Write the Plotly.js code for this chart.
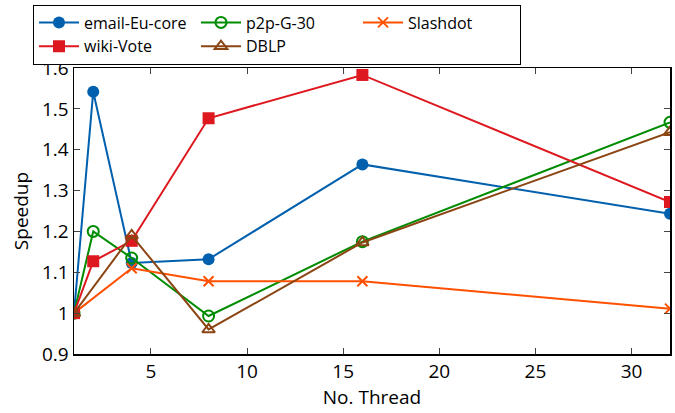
<!DOCTYPE html>
<html>
<head>
<meta charset="utf-8">
<script src="https://cdn.plot.ly/plotly-3.0.1.min.js"></script>
<style>html,body{margin:0;padding:0;background:#fff}#chart{width:675px;height:413px}</style>
</head>
<body>
<div id="chart"></div>
<script>
const threadsAll = [1, 2, 4, 8, 16, 32];
const threadsNo2 = [1, 4, 8, 16, 32];
const emailEuCore = [1.0, 1.542, 1.123, 1.132, 1.364, 1.243];
const wikiVote = [1.0, 1.127, 1.177, 1.477, 1.583, 1.272];
const p2pG30 = [1.0, 1.2, 1.135, 0.993, 1.175, 1.467];
const dblp = [1.0, 1.19, 0.96, 1.173, 1.443];
const slashdot = [1.0, 1.11, 1.078, 1.078, 1.011];
const xTicks = [5, 10, 15, 20, 25, 30];
const yTicks = [0.9, 1.0, 1.1, 1.2, 1.3, 1.4, 1.5, 1.6];

const FONT = 'Open Sans, Noto Sans, sans-serif';
function tr(name, x, y, color, symbol, size, lw) {
  return {type: 'scatter', mode: 'lines+markers', name: name, x: x, y: y,
    line: {color: color, width: 2},
    marker: {color: color, symbol: symbol, size: size, line: {color: color, width: lw}}};
}
const traces = [
  tr('email-Eu-core', threadsAll, emailEuCore, '#0060ad', 'circle', 12, 0),
  tr('p2p-G-30', threadsAll, p2pG30, '#008c00', 'circle-open', 11, 2),
  tr('Slashdot', threadsNo2, slashdot, '#ff5000', 'x-thin-open', 10, 2),
  tr('wiki-Vote', threadsAll, wikiVote, '#dd181f', 'square', 12, 0),
  tr('DBLP', threadsNo2, dblp, '#8b4513', 'triangle-up-open', 11, 2)
];
const layout = {
  width: 675, height: 413,
  margin: {l: 74, r: 5, t: 66, b: 59},
  paper_bgcolor: '#fff', plot_bgcolor: '#fff',
  font: {family: FONT, size: 19, color: '#000'},
  showlegend: true,
  legend: {orientation: 'h', x: 0.75, y: 1.222, xanchor: 'right', yanchor: 'top',
    bordercolor: '#000', borderwidth: 1, entrywidth: 107, entrywidthmode: 'pixels',
    font: {family: FONT, size: 16}, itemwidth: 40, tracegroupgap: 0, traceorder: 'normal'},
  xaxis: {range: [1, 32], tickvals: xTicks, ticks: 'inside', ticklen: 6, mirror: 'ticks',
    showline: true, linecolor: '#000', linewidth: 1.5, showgrid: false, zeroline: false,
    tickfont: {family: FONT, size: 19},
    title: {text: 'No. Thread', font: {family: FONT, size: 19}, standoff: 2}},
  yaxis: {range: [0.9, 1.6], tickvals: yTicks, ticks: 'inside', ticklen: 6, mirror: 'ticks',
    showline: true, linecolor: '#000', linewidth: 1.5, showgrid: false, zeroline: false,
    tickfont: {family: FONT, size: 19},
    title: {text: 'Speedup', font: {family: FONT, size: 19}, standoff: 8}}
};
Plotly.newPlot('chart', traces, layout, {displayModeBar: false, staticPlot: true});
</script>
</body>
</html>
